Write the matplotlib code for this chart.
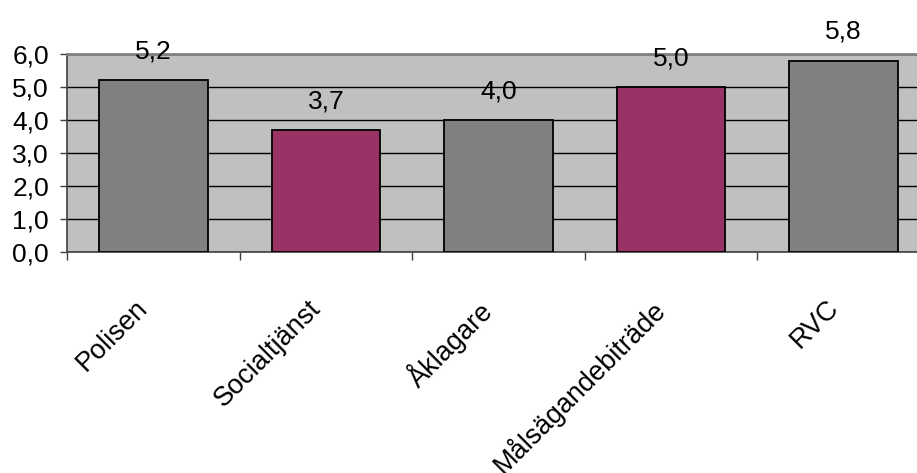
import numpy as np
import matplotlib.pyplot as plt
from matplotlib.ticker import FuncFormatter, FixedLocator

plt.rcParams['font.family'] = ['Liberation Sans', 'DejaVu Sans']

# Mean ratings per authority
categories = ['Polisen', 'Socialtjänst', 'Åklagare', 'Målsägandebiträde', 'RVC']
values = [5.2, 3.7, 4.0, 5.0, 5.8]
bar_colors = ['#808080', '#993366', '#808080', '#993366', '#808080']
y_ticks = [0, 1, 2, 3, 4, 5, 6]


def comma(v, pos=None):
    return f'{v:.1f}'.replace('.', ',')


fig = plt.figure(figsize=(9.17, 4.73), dpi=100)
# plot area runs past the right edge of the figure, like the original sheet
ax = fig.add_axes([67 / 917, 221 / 473, 863 / 917, 198 / 473])
ax.set_facecolor('#C0C0C0')

x = np.arange(len(categories))
bars = ax.bar(x, values, width=0.63, color=bar_colors, edgecolor='black',
              linewidth=1.3, zorder=3)

for bar, val in zip(bars, values):
    ax.annotate(comma(val), (bar.get_x() + bar.get_width() / 2, val),
                xytext=(0, 12), textcoords='offset points',
                ha='center', va='bottom', fontsize=19, clip_on=False)

ax.set_xlim(-0.5, len(categories) - 0.5)
ax.set_ylim(0, 6)
ax.set_yticks(y_ticks)
ax.yaxis.set_major_formatter(FuncFormatter(comma))
ax.tick_params(axis='y', labelsize=19, length=5, width=1, color='#404040', pad=8)

ax.yaxis.grid(True, color='black', linewidth=1)
ax.set_axisbelow(True)

# category labels at bar centres, tick marks between categories
ax.set_xticks(x)
ax.set_xticklabels(categories, rotation=45, ha='right', fontsize=19.5)
ax.tick_params(axis='x', which='major', length=0, pad=31)
ax.xaxis.set_minor_locator(FixedLocator(np.arange(len(categories) + 1) - 0.5))
ax.tick_params(axis='x', which='minor', length=6, width=1, color='#404040')

for side in ['left', 'bottom']:
    ax.spines[side].set_color('#404040')
    ax.spines[side].set_linewidth(1.2)
ax.spines['top'].set_color('#808080')
ax.spines['top'].set_linewidth(2)
ax.spines['right'].set_visible(False)

fig.savefig('out.png', dpi=100)
